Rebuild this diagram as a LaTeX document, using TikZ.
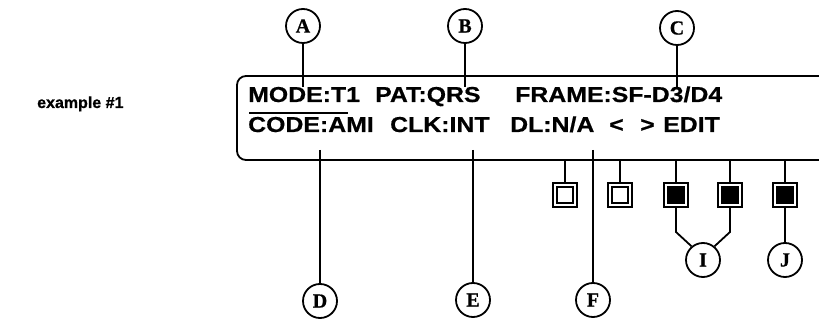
\documentclass[tikz,border=0pt]{standalone}
\usepackage{fontspec}
\newfontfamily\lcdfont[FakeStretch=1.15, FakeBold=0.6]{Liberation Sans}
\newfontfamily\labelfont[FakeBold=0.8]{Liberation Sans}
\newfontfamily\calloutfont[FakeBold=0.8]{Liberation Serif}
\usetikzlibrary{positioning, calc}
\tikzset{
	lcdtext/.style={font=\fontsize{21.6}{24}\lcdfont\bfseries, inner sep=0pt, anchor=base west}
}
\tikzset{
	callout/.style={circle, draw, line width=1.8pt, minimum size=34pt, inner sep=0pt, font=\fontsize{20}{20}\calloutfont\bfseries}
}
\tikzset{
	keybox/.style={draw, line width=2.2pt, double=white, double distance=1.4pt, fill=#1, minimum size=20pt, inner sep=0pt}
}
\tikzset{
	leader/.style={line width=1.8pt},
	stem/.style={line width=1.2pt},
	lcdframe/.style={line width=1.8pt, rounded corners=9pt}
}
\tikzset{
	exlabel/.style={font=\fontsize{16}{19}\labelfont\bfseries, inner sep=0pt, anchor=base west}
}
\begin{document}
\begin{tikzpicture}[x=1pt, y=-1pt]
\useasboundingbox (0,0) rectangle (819,320);

\node[exlabel] (caption) at (37,108) {example \#1};

\draw[lcdframe] (819,76) -- (237,76) -- (237,160) -- (819,160);

\node[lcdtext] (mode) at (248,102) {MODE:T1};
\node[lcdtext] (pat) at (375,102) {PAT:QRS};
\node[lcdtext] (frame) at (515,102) {FRAME:SF-D3/D4};
\node[lcdtext] (code) at (248,132) {CODE:AMI};
\node[lcdtext] (clk) at (390,132) {CLK:INT};
\node[lcdtext] (dl) at (510,132) {DL:N/A};
\node[lcdtext] (prev) at (609,132) {<};
\node[lcdtext] (next) at (640,132) {>};
\node[lcdtext] (edit) at (663,132) {EDIT};
\draw[leader] (mode.base west) ++(1,11) -- ++(99,0);

\node[callout] (A) at (303,26) {A};
\node[callout] (B) at (465,26) {B};
\node[callout] (C) at (677,28) {C};
\node[callout] (D) at (320,301) {D};
\node[callout] (E) at (473,300) {E};
\node[callout] (F) at (593,300) {F};
\node[callout] (I) at (703,260) {I};
\node[callout] (J) at (785,260) {J};

\coordinate (tA) at (303,87);
\coordinate (tB) at (465,87);
\coordinate (tC) at (677,87);
\coordinate (bD) at (320,150);
\coordinate (bE) at (473,150);
\coordinate (bF) at (593,150);
\coordinate (rim) at (0,160);
\coordinate (ibend) at (0,232);

\draw[leader] (A) -- (tA);
\draw[leader] (B) -- (tB);
\draw[leader] (C) -- (tC);
\draw[leader] (bD) -- (D);
\draw[leader] (bE) -- (E);
\draw[leader] (bF) -- (F);

\node[keybox=white] (k1) at (565,195) {};
\node[keybox=white] (k2) at (620,195) {};
\node[keybox=black] (k3) at (676,195) {};
\node[keybox=black] (k4) at (730,195) {};
\node[keybox=black] (k5) at (785,195) {};

\draw[stem] (k1.north) -- (k1.north |- rim);
\draw[stem] (k2.north) -- (k2.north |- rim);
\draw[stem] (k3.north) -- (k3.north |- rim);
\draw[stem] (k4.north) -- (k4.north |- rim);
\draw[stem] (k5.north) -- (k5.north |- rim);

\draw[leader] (k3.south) -- (k3.south |- ibend) -- (I.130);
\draw[leader] (k4.south) -- (k4.south |- ibend) -- (I.50);
\draw[leader] (k5) -- (J);

\end{tikzpicture}
\end{document}
